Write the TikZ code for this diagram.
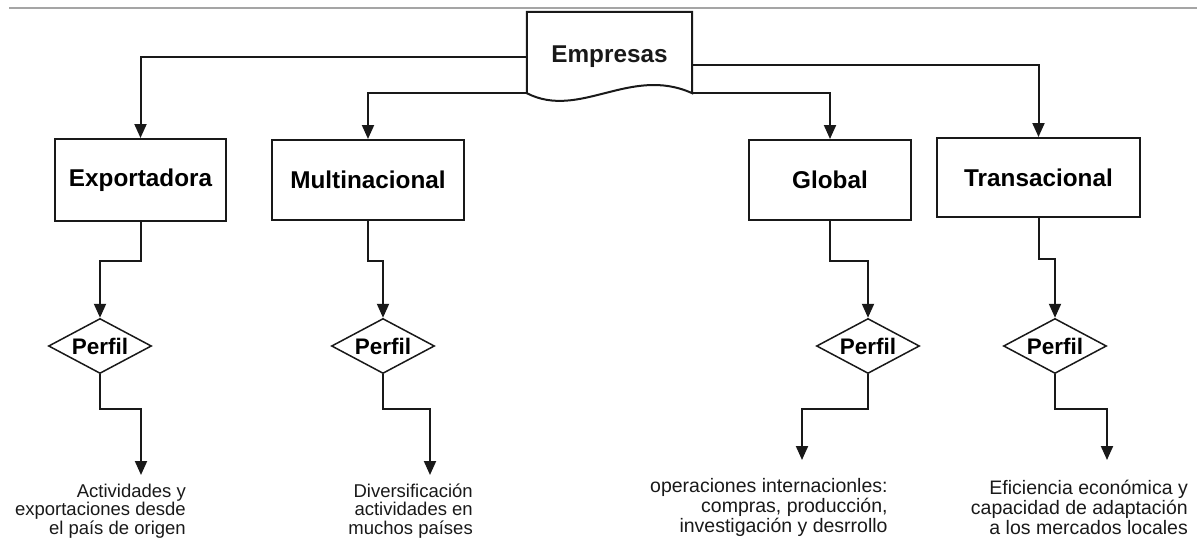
\documentclass[tikz,border=0pt]{standalone}
\usepackage{fontspec}
\setmainfont{Liberation Sans}
\usetikzlibrary{arrows.meta,shapes.geometric}
\definecolor{ink}{RGB}{25,25,25}
\definecolor{rule}{RGB}{165,165,165}

\begin{document}
\begin{tikzpicture}[x=1pt,y=-1pt,
  line/.style={draw=ink,line width=2pt},
  conn/.style={line,-{Triangle[width=12pt,length=14pt]}},
  boxnode/.style={draw=ink,line width=2pt,fill=white,inner sep=0pt,
    font=\bfseries\fontsize{24.3}{28}\selectfont},
  profile/.style={draw=ink,line width=1.5pt,fill=white,shape=diamond,
    aspect=1.87,inner sep=0pt,minimum width=103pt,minimum height=55pt,
    font=\bfseries\fontsize{22.5}{26}\selectfont},
  descl/.style={inner sep=0pt,align=right,text=ink,
    font=\fontsize{18.5}{18.5}\selectfont},
  descr/.style={inner sep=0pt,align=right,text=ink,
    font=\fontsize{19.5}{20}\selectfont}]

\useasboundingbox (0,0) rectangle (1197,546);

% header rule
\draw[draw=rule,line width=2pt] (9,8) -- (1197,8);

% root: document shape with a wavy lower edge
\node[inner sep=0pt,minimum width=165pt,minimum height=81pt] (emp) at (609.5,52.5) {};
\draw[line,fill=white] (emp.south west) -- (emp.north west) -- (emp.north east)
  -- (emp.south east) .. controls +(-62,-28) and +(53,27) .. (emp.south west) -- cycle;
\node[inner sep=0pt,text=ink,font=\bfseries\fontsize{24.3}{28}\selectfont]
  (emplabel) at ([yshift=-4.5pt]emp.center) {Empresas};

% company types
\node[boxnode,minimum width=171pt,minimum height=82pt] (exp) at (140.5,180) {Exportadora};
\node[boxnode,minimum width=192pt,minimum height=80pt] (mul) at (368,180) {Multinacional};
\node[boxnode,minimum width=162pt,minimum height=80pt] (glo) at (830,180) {Global};
\node[boxnode,minimum width=203pt,minimum height=79pt] (tra) at (1038.5,177.5) {Transacional};

% profiles
\node[profile] (pe1) at (100,346) {Perfil};
\node[profile] (pe2) at (383,346) {Perfil};
\node[profile] (pe3) at (868,346) {Perfil};
\node[profile] (pe4) at (1055,346) {Perfil};

% descriptions
\node[descl,anchor=east] (d1) at (186,511)
  {Actividades y\\exportaciones desde\\el país de origen};
\node[descl,anchor=east] (d2) at (473,511)
  {Diversificación\\actividades en\\muchos países};
\node[descr,anchor=west] (d3) at (650,507)
  {operaciones internacionles:\\compras, producción,\\investigación y desrrollo};
\node[descr,anchor=east] (d4) at (1188,507)
  {Eficiencia económica y\\capacidad de adaptación\\a los mercados locales};

% arrow ends above the descriptions
\coordinate (t1) at (141,475);
\coordinate (t2) at (430,475);
\coordinate (t3) at (802,460);
\coordinate (t4) at (1107,460);

% root to types
\draw[conn] ([yshift=-4.5pt]emp.west) -| (exp.north);
\draw[conn] (emp.south west) -| (mul.north);
\draw[conn] (emp.south east) -| (glo.north);
\draw[conn] ([yshift=-12.5pt]emp.east) -| (tra.north);

% types to profiles
\draw[conn] (exp.south) -- (exp.south |- 0,261) -| (pe1.north);
\draw[conn] (mul.south) -- (mul.south |- 0,261) -| (pe2.north);
\draw[conn] (glo.south) -- (glo.south |- 0,261) -| (pe3.north);
\draw[conn] (tra.south) -- (tra.south |- 0,259) -| (pe4.north);

% profiles to descriptions
\draw[conn] (pe1.south) -- (pe1.south |- 0,409) -| (t1);
\draw[conn] (pe2.south) -- (pe2.south |- 0,409) -| (t2);
\draw[conn] (pe3.south) -- (pe3.south |- 0,409) -| (t3);
\draw[conn] (pe4.south) -- (pe4.south |- 0,409) -| (t4);

\end{tikzpicture}
\end{document}
